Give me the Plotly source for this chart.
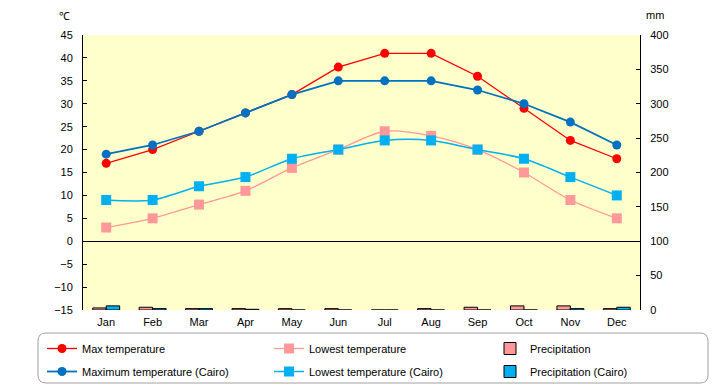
import plotly.graph_objects as go

months = ["Jan", "Feb", "Mar", "Apr", "May", "Jun", "Jul", "Aug", "Sep", "Oct", "Nov", "Dec"]
max_temp = [17, 20, 24, 28, 32, 38, 41, 41, 36, 29, 22, 18]
low_temp = [3, 5, 8, 11, 16, 20, 24, 23, 20, 15, 9, 5]
precip = [3, 4, 2, 2, 2, 2, 0, 2, 4, 6, 6, 2]
max_cairo = [19, 21, 24, 28, 32, 35, 35, 35, 33, 30, 26, 21]
low_cairo = [9, 9, 12, 14, 18, 20, 22, 22, 20, 18, 14, 10]
precip_cairo = [6, 2, 2, 1, 0, 0, 0, 0, 0, 0, 2, 4]

y1_ticks = list(range(-15, 50, 5))
y2_ticks = list(range(0, 450, 50))

FONT = "Liberation Sans"
RED = "#FF0000"
PINK = "#FF9999"
BLUE = "#0070C0"
LBLUE = "#00B0F0"

# page offset (body margin)
OFF = 8
# plot area in page pixels
L, R, T, B = 83, 640, 35, 310
W, H = 720 - OFF, 385 - OFF
pw, ph = R - L, B - T

def px(x):
    return (x - L) / pw

def py(y):
    return (B - y) / ph

fig = go.Figure()

fig.add_trace(go.Scatter(x=months, y=max_temp, name="Max temperature", mode="lines+markers",
                         line=dict(color=RED, width=1.3), marker=dict(color=RED, size=9, symbol="circle"),
                         legend="legend", legendgroup="a"))
fig.add_trace(go.Scatter(x=months, y=max_cairo, name="Maximum temperature (Cairo)", mode="lines+markers",
                         line=dict(color=BLUE, width=1.8), marker=dict(color=BLUE, size=9, symbol="circle"),
                         legend="legend", legendgroup="b"))
fig.add_trace(go.Scatter(x=months, y=low_temp, name="Lowest temperature", mode="lines+markers",
                         line=dict(color=PINK, width=1.3, shape="spline", smoothing=0.8),
                         marker=dict(color=PINK, size=10, symbol="square"),
                         legend="legend2", legendgroup="c"))
fig.add_trace(go.Scatter(x=months, y=low_cairo, name="Lowest temperature (Cairo)", mode="lines+markers",
                         line=dict(color=LBLUE, width=1.5, shape="spline", smoothing=0.8),
                         marker=dict(color=LBLUE, size=10, symbol="square"),
                         legend="legend2", legendgroup="d"))
fig.add_trace(go.Bar(x=months, y=precip, name="Precipitation", yaxis="y2",
                     marker=dict(color=PINK, line=dict(color="black", width=1)),
                     legend="legend3", legendgroup="e"))
fig.add_trace(go.Bar(x=months, y=precip_cairo, name="Precipitation (Cairo)", yaxis="y2",
                     marker=dict(color=LBLUE, line=dict(color="black", width=1)),
                     legend="legend3", legendgroup="f"))

# rounded legend box
r_x, r_y = 8 / pw, 8 / ph
x0, x1 = px(38), px(708)
y0, y1 = py(383), py(333)
path = (f"M{x0 + r_x},{y1} L{x1 - r_x},{y1} Q{x1},{y1} {x1},{y1 - r_y} "
        f"L{x1},{y0 + r_y} Q{x1},{y0} {x1 - r_x},{y0} "
        f"L{x0 + r_x},{y0} Q{x0},{y0} {x0},{y0 + r_y} "
        f"L{x0},{y1 - r_y} Q{x0},{y1} {x0 + r_x},{y1} Z")
fig.add_shape(type="path", path=path, xref="paper", yref="paper",
              line=dict(color="#A0A0A0", width=1), fillcolor="rgba(0,0,0,0)", layer="below")

leg_common = dict(orientation="v", xanchor="left", yanchor="top", bgcolor="rgba(0,0,0,0)",
                  font=dict(family=FONT, size=11, color="black"), itemwidth=30,
                  tracegroupgap=4, traceorder="grouped")

fig.update_layout(
    width=W, height=H,
    margin=dict(l=L - OFF, r=W - (R - OFF), t=T - OFF, b=H - (B - OFF), autoexpand=False),
    paper_bgcolor="white",
    plot_bgcolor="#FFFFCC",
    font=dict(family=FONT, size=11, color="black"),
    barmode="group", bargap=0.42, bargroupgap=0,
    showlegend=True,
    legend=dict(x=px(42), y=py(334), **leg_common),
    legend2=dict(x=px(269), y=py(334), **leg_common),
    legend3=dict(x=px(490), y=py(334), **leg_common),
    xaxis=dict(type="category", categoryorder="array", categoryarray=months,
               range=[-0.5, 11.5], showline=False, showgrid=False, ticks="",
               ticklabelstandoff=4,
               tickfont=dict(family=FONT, size=11), zeroline=False),
    yaxis=dict(range=[-15, 45], tickvals=y1_ticks, showgrid=False, showline=True,
               linecolor="black", linewidth=1, ticks="inside", ticklen=4, tickcolor="black",
               zeroline=True, zerolinecolor="black", zerolinewidth=1, ticklabelstandoff=7,
               tickfont=dict(family=FONT, size=11)),
    yaxis2=dict(range=[0, 400], tickvals=y2_ticks, overlaying="y", side="right",
                showgrid=False, showline=True, linecolor="black", linewidth=1,
                ticks="inside", ticklen=4, tickcolor="black", zeroline=False, ticklabelstandoff=7,
                tickfont=dict(family=FONT, size=11)),
    annotations=[
        dict(text="℃", xref="paper", yref="paper", x=px(57), y=py(24), yanchor="bottom",
             showarrow=False, font=dict(family=FONT, size=11)),
        dict(text="mm", xref="paper", yref="paper", x=px(666), y=py(23), yanchor="bottom",
             showarrow=False, font=dict(family=FONT, size=11)),
    ],
)

fig.write_html("out.html")
